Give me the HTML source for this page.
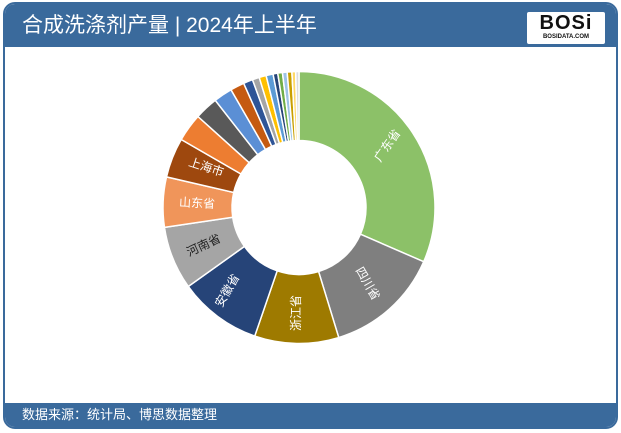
<!DOCTYPE html>
<html><head><meta charset="utf-8"><style>
body{margin:0;width:621px;height:433px;background:#fff;overflow:hidden;font-family:"Liberation Sans","Noto Sans CJK SC",sans-serif}
#frame{position:absolute;left:3px;top:2px;width:611px;height:423px;border:2px solid #3a6a9c;border-radius:12px;background:#fff;overflow:hidden}
#hdr{position:absolute;left:0;top:0;width:611px;height:43px;background:#3a6a9c;color:#fff;font-size:21px;line-height:43px;padding-left:17px;box-sizing:border-box}
#ftr{position:absolute;left:0;bottom:0;width:611px;height:24px;background:#3a6a9c;color:#fff;font-size:13px;line-height:24px;padding-left:17px;box-sizing:border-box}
#logo{position:absolute;left:522px;top:8px;width:78px;height:32px;background:#fff;border-radius:2px;text-align:center}
#logo b{display:block;font:900 20px/22px "Liberation Sans",sans-serif;color:#111;letter-spacing:1px}
#logo i{display:block;font:bold 6px/7px "Liberation Sans",sans-serif;color:#111;font-style:normal}
svg{position:absolute;left:0;top:0}
</style></head><body>
<div id="frame"><div id="hdr">合成洗涤剂产量 | 2024年上半年</div><div id="logo"><b>BOSi</b><i>BOSIDATA.COM</i></div><div id="ftr">数据来源：统计局、博思数据整理</div></div>
<svg width="621" height="433" id="s">
<g id="p"></g>
<g font-size="12" fill="#fff" text-anchor="middle" dominant-baseline="middle" font-family="Liberation Sans,Noto Sans CJK SC,sans-serif">
<text transform="translate(388,146) rotate(-55)">广东省</text>
<text transform="translate(367,284) rotate(60)">四川省</text>
<text transform="translate(297,313) rotate(-90)">浙江省</text>
<text transform="translate(228,291) rotate(-60)">安徽省</text>
<text transform="translate(204,246) rotate(-25)" fill="#222">河南省</text>
<text transform="translate(197,204) rotate(3)">山东省</text>
<text transform="translate(206,168) rotate(18)">上海市</text>
</g></svg>
<script>
var cx=299,cy=207.5,R=136,r=67;
var s=[[0,113.5,'#8cc168'],[113.5,163,'#7f7f7f'],[163,199,'#9e7a00'],[199,234.5,'#264478'],[234.5,261.6,'#a5a5a5'],[261.6,283,'#f0955a'],[283,300,'#9e480e'],[300,312,'#ed7d31'],[312,322,'#595959'],[322,330,'#5b8fd5'],[330,336,'#c55a11'],[336,340,'#2f5597'],[340,343,'#a5a5a5'],[343,346,'#ffc000'],[346,349,'#5b9bd5'],[349,351,'#264478'],[351,353,'#70ad47'],[353,355,'#9dc3e6'],[355,357,'#c9a000'],[357,358.6,'#ffd966'],[358.6,360,'#dddddd']];
function pt(a,rr){a=(a-90)*Math.PI/180;return (cx+rr*Math.cos(a)).toFixed(2)+','+(cy+rr*Math.sin(a)).toFixed(2)}
var h='';s.forEach(function(q){var l=q[1]-q[0]>180?1:0;h+='<path d="M'+pt(q[0],R)+'A'+R+','+R+' 0 '+l+' 1 '+pt(q[1],R)+'L'+pt(q[1],r)+'A'+r+','+r+' 0 '+l+' 0 '+pt(q[0],r)+'Z" fill="'+q[2]+'" stroke="#fff" stroke-width="1.5"/>'});
document.getElementById('p').innerHTML=h;
</script>
</body></html>
